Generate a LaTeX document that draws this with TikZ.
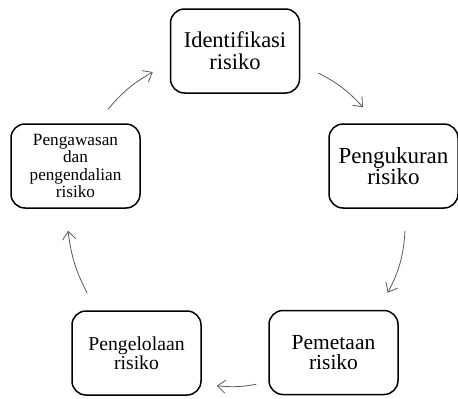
\documentclass[tikz,border=0pt]{standalone}
\usepackage{fontspec}
\setmainfont{Liberation Serif}
\usetikzlibrary{arrows.meta}

\begin{document}
\begin{tikzpicture}
[boxDecorate/.style={shape=rectangle,rounded corners=14pt,draw,line width=1.5pt,align=center,inner sep=0pt,minimum width=129pt,minimum height=84pt},%
  flowDecorate/.style={-{Straight Barb[length=8pt,width=13pt]},draw=black!65,line width=0.8pt},%
  x=1pt,y=-1pt]
\useasboundingbox (0,0) rectangle (458,399);
%% boxes
\foreach \nodename/\x/\y/\fsize/\lskip/\boxtext in {
  idf/235/51/22.5/22/{Identifikasi\\risiko},
  pgu/393.5/166/23/21.7/{Pengukuran\\risiko},
  pmt/333.5/352.5/21.5/20.7/{Pemetaan\\risiko},
  pgl/136.5/353/19.7/19/{Pengelolaan\\risiko},
  pga/75.5/166/17.2/17.3/{Pengawasan\\dan\\pengendalian\\risiko}}
{
  \node (\nodename) at (\x,\y) [boxDecorate,font=\fontsize{\fsize}{\lskip}\selectfont] {\boxtext};
}
%% arrows
\draw[flowDecorate] ([xshift=32.5pt,yshift=14pt]pga.north) to[bend left=10] ([xshift=-17pt,yshift=-21pt]idf.west);
\draw[flowDecorate] ([xshift=18pt,yshift=-22pt]idf.east) to[bend left=10] ([xshift=-30.5pt,yshift=16pt]pgu.north);
\draw[flowDecorate] ([xshift=11.5pt,yshift=-22pt]pgu.south) to[bend left=12] ([xshift=-11pt,yshift=17pt]pmt.north east);
\draw[flowDecorate] ([xshift=-12pt,yshift=11pt]pmt.south west) to[bend left=8] ([xshift=15pt,yshift=10pt]pgl.south east);
\draw[flowDecorate] ([xshift=16pt,yshift=17pt]pgl.north west) to[bend left=10] ([xshift=-7.5pt,yshift=-22pt]pga.south);
\end{tikzpicture}
\end{document}
